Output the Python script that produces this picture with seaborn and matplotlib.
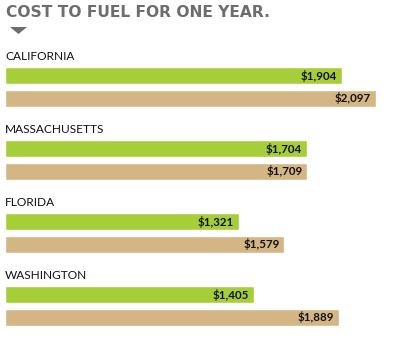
import matplotlib
matplotlib.use("Agg")
import matplotlib.pyplot as plt
from matplotlib.patches import Polygon
import seaborn as sns
import pandas as pd

states = ["CALIFORNIA", "MASSACHUSETTS", "FLORIDA", "WASHINGTON"]
series_names = ["Vehicle A", "Vehicle B"]
values_a = [1904, 1704, 1321, 1405]
values_b = [2097, 1709, 1579, 1889]
title = "COST TO FUEL FOR ONE YEAR."

df = pd.DataFrame({
    "state": states * 2,
    "series": [series_names[0]] * len(states) + [series_names[1]] * len(states),
    "cost": values_a + values_b,
})

sns.set_theme(style="white")
plt.rcParams["font.family"] = ["Lato", "DejaVu Sans"]

fig = plt.figure(figsize=(4.0, 3.61), dpi=100)
ax = fig.add_axes([0, 0, 1, 1])
sns.barplot(data=df, y="state", x="cost", hue="series", order=states,
            hue_order=series_names, palette=["#a6ce39", "#d3b683"],
            orient="h", width=0.63, gap=0.26, legend=False, ax=ax,
            errorbar=None, saturation=1)

scale = 0.177  # px per dollar
ax.set_xlim(-5 / scale, 395 / scale)
unit = 73.0
c0 = 87.0
ax.set_ylim((361 - c0) / unit, -c0 / unit)
ax.axis("off")

for cont in ax.containers:
    for bar in cont:
        w = bar.get_width()
        yc = bar.get_y() + bar.get_height() / 2
        ax.annotate(f"${w:,.0f}", xy=(w, yc), xytext=(-5, 0),
                    textcoords="offset pixels", ha="right", va="center",
                    fontsize=8.3, fontweight="bold", color="#111111")

for i, s in enumerate(states):
    ax.text(0, i - 30 / unit, s, ha="left", va="center", fontsize=8.6,
            color="#111111")

fig.text(6 / 400, 1 - 12.5 / 361, title, ha="left", va="center",
         fontsize=11.2, fontweight="bold", color="#6d6d6d",
         family="DejaVu Sans")
tri = Polygon([(10 / 400, 1 - 27 / 361), (27 / 400, 1 - 27 / 361),
               (18.5 / 400, 1 - 34 / 361)], closed=True,
              transform=fig.transFigure, facecolor="#6d6d6d",
              edgecolor="none")
fig.patches.append(tri)

fig.savefig("out.png", dpi=100, facecolor="white")
